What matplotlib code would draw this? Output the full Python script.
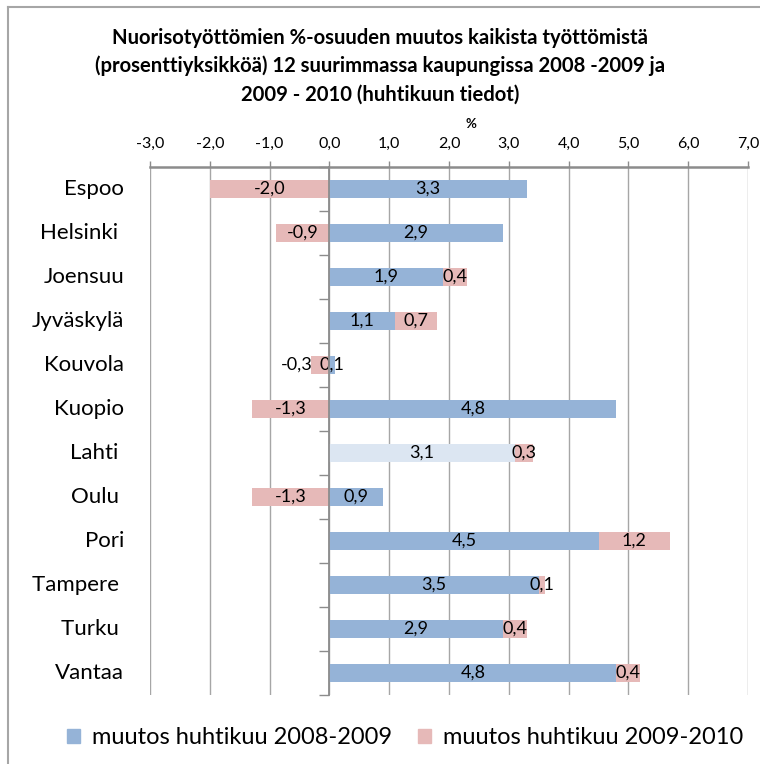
import matplotlib
matplotlib.use("Agg")
import matplotlib.pyplot as plt
from matplotlib.lines import Line2D
from matplotlib.patches import Patch
import matplotlib.ticker as mticker

plt.rcParams['font.family'] = ['Lato', 'DejaVu Sans']

# Data
cities = ["Espoo", "Helsinki ", "Joensuu", "Jyväskylä", "Kouvola", "Kuopio",
          "Lahti ", "Oulu ", "Pori", "Tampere ", "Turku ", "Vantaa"]
change_0809 = [3.3, 2.9, 1.9, 1.1, 0.1, 4.8, 3.1, 0.9, 4.5, 3.5, 2.9, 4.8]
change_0910 = [-2.0, -0.9, 0.4, 0.7, -0.3, -1.3, 0.3, -1.3, 1.2, 0.1, 0.4, 0.4]
series_names = ["muutos huhtikuu 2008-2009", "muutos huhtikuu 2009-2010"]
xticks = [-3, -2, -1, 0, 1, 2, 3, 4, 5, 6, 7]

blue = "#95b3d7"
pink = "#e6b9b8"
pale = "#dce6f2"
gray = "#8c8c8c"

fig = plt.figure(figsize=(7.6, 7.64), dpi=100)
ax = fig.add_axes([150 / 760, 69 / 764, 598 / 760, 528 / 764])

y = list(range(len(cities)))
h = 0.43

# stacked bars: positives stack right of zero, negatives left
for i in y:
    a, b = change_0809[i], change_0910[i]
    c1 = pale if cities[i].strip() == "Lahti" else blue
    left_a = 0
    ax.barh(i, a, left=left_a, height=h, color=c1, zorder=3)
    if (b >= 0) == (a >= 0):
        left_b = a
    else:
        left_b = 0
    ax.barh(i, b, left=left_b, height=h, color=pink, zorder=3)
    # data labels
    ax.text(left_a + a / 2, i, f"{a:.1f}".replace(".", ","), ha="center",
            va="center", fontsize=13, zorder=4)
    dx = -24 if (b < 0 and abs(b) < 0.35) else 0
    ax.annotate(f"{b:.1f}".replace(".", ","), (left_b + b / 2, i),
                xytext=(dx, 0), textcoords="offset pixels", ha="center",
                va="center", fontsize=13, zorder=4)

ax.set_xlim(-3, 7)
ax.set_ylim(len(cities) - 0.5, -0.5)

# value axis on top
ax.xaxis.tick_top()
ax.set_xticks(xticks)
ax.xaxis.set_major_formatter(mticker.FuncFormatter(lambda v, p: f"{v:.1f}".replace(".", ",")))
ax.tick_params(axis="x", direction="out", length=4.3, width=1, color=gray,
               pad=7, labelsize=11.5)
ax.grid(axis="x", color="#a6a6a6", linewidth=1, zorder=0)

# category axis at zero
ax.spines["left"].set_position(("data", 0))
ax.spines["left"].set_color(gray)
ax.spines["left"].set_linewidth(1.3)
ax.spines["left"].set_zorder(5)
ax.spines["top"].set_color(gray)
ax.spines["top"].set_linewidth(1.8)
ax.spines["right"].set_visible(False)
ax.spines["bottom"].set_visible(False)
ax.set_yticks(y)
ax.set_yticklabels([])
ax.tick_params(axis="y", which="major", length=0)
ax.set_yticks([i - 0.5 for i in range(len(cities) + 1)], minor=True)
ax.tick_params(axis="y", which="minor", direction="out", length=7, width=1, color=gray)

for i, name in enumerate(cities):
    ax.text(-0.043, i, name, transform=ax.get_yaxis_transform(), ha="right",
            va="center", fontsize=16)

fig.text(471 / 760, 1 - 124 / 764, "%", ha="center", va="center", fontsize=9.5, fontweight="bold")

fig.text(380 / 760, 1 - 66 / 764,
         "Nuorisotyöttömien %-osuuden muutos kaikista työttömistä\n"
         "(prosenttiyksikköä) 12 suurimmassa kaupungissa 2008 -2009 ja\n"
         "2009 - 2010 (huhtikuun tiedot)",
         ha="center", va="center", fontsize=14.6, fontweight="bold", linespacing=1.5)

handles = [Patch(color=blue), Patch(color=pink)]
fig.legend(handles, series_names, loc="center", bbox_to_anchor=(405 / 760, 1 - 738 / 764),
           ncol=2, frameon=False, fontsize=17, handlelength=0.55, handleheight=0.55,
           handletextpad=0.5, columnspacing=1.1)

# chart border
fig.add_artist(Line2D([8 / 760, 8 / 760], [0, 1 - 7 / 764], color="#a6a6a6", lw=1.5))
fig.add_artist(Line2D([8 / 760, 1], [1 - 7 / 764, 1 - 7 / 764], color="#a6a6a6", lw=1.5))

fig.savefig("out.png", dpi=100)
